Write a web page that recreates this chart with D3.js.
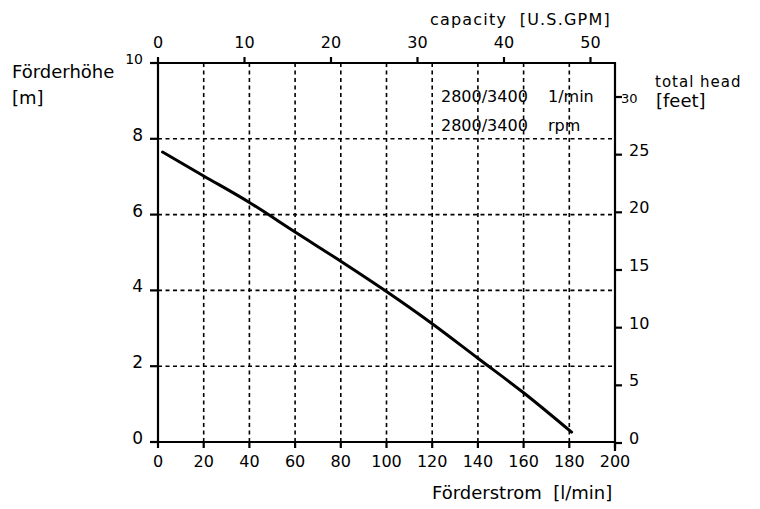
<!DOCTYPE html>
<html lang="de">
<head>
<meta charset="utf-8">
<title>Kennlinie</title>
<style>
  html, body {margin: 0; padding: 0; background: #fff;}
  svg {font-family: "DejaVu Sans", Verdana, sans-serif; display: block;}
  .axis {stroke: #000; stroke-width: 2.2; fill: none;}
  .grid {stroke: #000; stroke-width: 1.6; stroke-dasharray: 4,3.5; fill: none;}
  .curve {stroke: #000; stroke-width: 3; fill: none; stroke-linecap: round;}
  text {fill: #000;}
</style>
</head>
<body>
<svg id="chart" width="760" height="509"></svg>
<script src="https://cdnjs.cloudflare.com/ajax/libs/d3/7.8.5/d3.min.js"></script>
<script>
  // flow Q [l/min] and head H [m]
  var flow = [2, 20, 40, 60, 80, 100, 120, 140, 160, 181];
  var head = [7.65, 7.02, 6.32, 5.54, 4.77, 3.97, 3.12, 2.21, 1.3, 0.26];

  var flowTicks = [0, 20, 40, 60, 80, 100, 120, 140, 160, 180, 200];
  var gridFlow = [20, 40, 60, 80, 100, 120, 140, 160, 180];
  var headTicks = [0, 2, 4, 6, 8, 10];
  var gridHead = [2, 4, 6, 8];
  var gpmTicks = [0, 10, 20, 30, 40, 50];
  var feetTicks = [0, 5, 10, 15, 20, 25, 30];
  var speedValues = ["2800/3400", "2800/3400"];
  var speedUnits = ["1/min", "rpm"];

  var svg = d3.select("#chart");

  var x = d3.scaleLinear().domain([0, 200]).range([158, 615]);
  var y = d3.scaleLinear().domain([0, 10]).range([442, 63]);
  var xGpm = d3.scaleLinear().domain([0, 200 / 3.78541]).range([158, 615]);
  var yFt = d3.scaleLinear().domain([0, 30]).range([443, 97]);

  // grid
  svg.selectAll(".vgrid").data(gridFlow).enter().append("line")
    .attr("class", "grid")
    .attr("x1", function (d) { return x(d); }).attr("x2", function (d) { return x(d); })
    .attr("y1", y(10)).attr("y2", y(0));
  svg.selectAll(".hgrid").data(gridHead).enter().append("line")
    .attr("class", "grid")
    .attr("x1", x(0)).attr("x2", x(200))
    .attr("y1", function (d) { return y(d); }).attr("y2", function (d) { return y(d); });

  // frame
  svg.append("line").attr("class", "axis").attr("x1", x(0) - 8).attr("x2", x(200)).attr("y1", y(0)).attr("y2", y(0));
  svg.append("line").attr("class", "axis").attr("x1", x(0) - 2).attr("x2", x(200)).attr("y1", y(10)).attr("y2", y(10));
  svg.append("line").attr("class", "axis").attr("x1", x(0)).attr("x2", x(0)).attr("y1", y(10)).attr("y2", y(0));
  svg.append("line").attr("class", "axis").attr("x1", x(200)).attr("x2", x(200)).attr("y1", y(10) - 1).attr("y2", y(0) + 9);

  // bottom axis: Förderstrom
  var bt = svg.append("g");
  bt.selectAll("line").data(flowTicks).enter().append("line")
    .attr("class", "axis")
    .attr("x1", function (d) { return x(d); }).attr("x2", function (d) { return x(d); })
    .attr("y1", y(0)).attr("y2", y(0) + 6);
  bt.selectAll("text").data(flowTicks).enter().append("text")
    .attr("x", function (d) { return x(d); }).attr("y", 467)
    .attr("text-anchor", "middle").attr("font-size", 16)
    .text(function (d) { return d; });

  // left axis: Förderhöhe
  var lt = svg.append("g");
  lt.selectAll("line").data(headTicks).enter().append("line")
    .attr("class", "axis")
    .attr("x1", x(0) - 8).attr("x2", x(0))
    .attr("y1", function (d) { return y(d); }).attr("y2", function (d) { return y(d); });
  lt.selectAll("text").data(headTicks).enter().append("text")
    .attr("x", 143).attr("y", function (d) { return y(d) + (d === 10 ? 1 : 2); })
    .attr("text-anchor", "end").attr("font-size", function (d) { return d === 10 ? 14 : 17; })
    .text(function (d) { return d; });

  // top axis: capacity
  var tt = svg.append("g");
  tt.selectAll("line").data(gpmTicks).enter().append("line")
    .attr("class", "axis")
    .attr("x1", function (d) { return xGpm(d); }).attr("x2", function (d) { return xGpm(d); })
    .attr("y1", y(10) - 6).attr("y2", y(10));
  tt.selectAll("text").data(gpmTicks).enter().append("text")
    .attr("x", function (d) { return xGpm(d); }).attr("y", 48)
    .attr("text-anchor", "middle").attr("font-size", 16)
    .text(function (d) { return d; });

  // right axis: total head
  var rt = svg.append("g");
  rt.selectAll("line").data(feetTicks).enter().append("line")
    .attr("class", "axis")
    .attr("x1", x(200)).attr("x2", x(200) + 7)
    .attr("y1", function (d) { return yFt(d); }).attr("y2", function (d) { return yFt(d); });
  rt.selectAll("text").data(feetTicks).enter().append("text")
    .attr("x", function (d) { return d === 30 ? 621 : 629; })
    .attr("y", function (d) { return d === 30 ? yFt(d) + 6 : yFt(d) + 1; })
    .attr("font-size", function (d) { return d === 30 ? 13 : 16; })
    .text(function (d) { return d; });

  // curve
  var pts = flow.map(function (q, i) { return [q, head[i]]; });
  svg.append("path").datum(pts)
    .attr("class", "curve")
    .attr("d", d3.line()
      .x(function (d) { return x(d[0]); })
      .y(function (d) { return y(d[1]); })
      .curve(d3.curveMonotoneX));

  // speed note
  svg.selectAll(".speed").data(speedValues).enter().append("text")
    .attr("x", 441).attr("y", function (d, i) { return 102 + i * 29; })
    .attr("font-size", 16)
    .text(function (d) { return d; });
  svg.selectAll(".unit").data(speedUnits).enter().append("text")
    .attr("x", 548).attr("y", function (d, i) { return 102 + i * 29; })
    .attr("font-size", 16)
    .text(function (d) { return d; });

  // axis titles
  svg.append("text").attr("x", 12).attr("y", 78).attr("font-size", 18).text("Förderhöhe");
  svg.append("text").attr("x", 12).attr("y", 104).attr("font-size", 18).text("[m]");
  svg.append("text").attr("x", 655).attr("y", 87).attr("font-size", 15).attr("letter-spacing", 1).text("total head");
  svg.append("text").attr("x", 656).attr("y", 107).attr("font-size", 18).text("[feet]");
  svg.append("text").attr("x", 430).attr("y", 25).attr("font-size", 16).attr("letter-spacing", 1.2)
    .style("white-space", "pre").text("capacity  [U.S.GPM]");
  svg.append("text").attr("x", 432).attr("y", 499).attr("font-size", 18)
    .style("white-space", "pre").text("Förderstrom  [l/min]");
</script>
</body>
</html>
